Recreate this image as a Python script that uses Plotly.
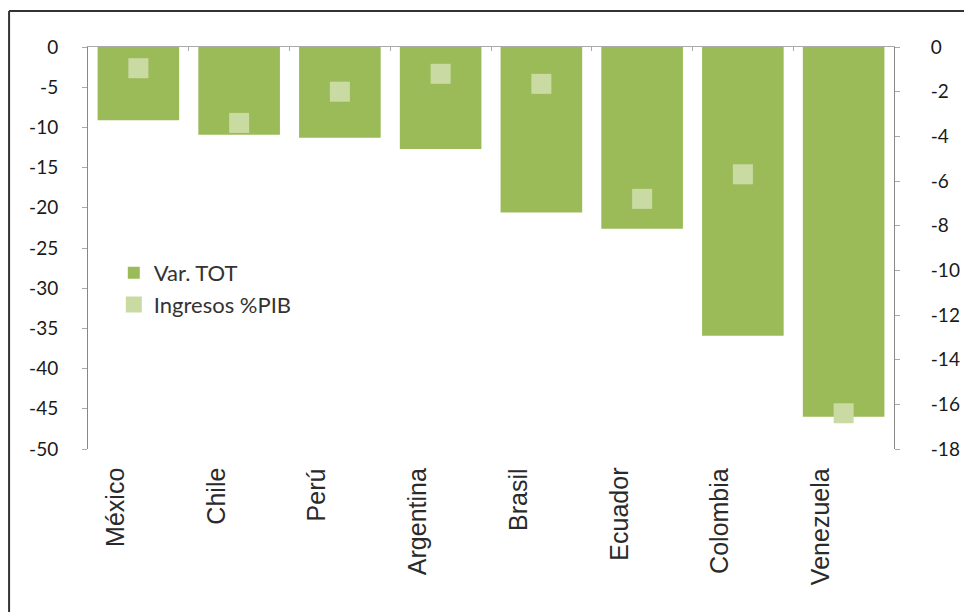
import plotly.graph_objects as go

# data
paises = ["México", "Chile", "Perú", "Argentina", "Brasil", "Ecuador", "Colombia", "Venezuela"]
var_tot = [-9.1, -10.9, -11.3, -12.7, -20.6, -22.6, -35.9, -46.0]
ingresos_pib = [-0.95, -3.4, -2.0, -1.2, -1.65, -6.8, -5.7, -16.4]
ticks_izq = list(range(0, -55, -5))
ticks_der = list(range(0, -20, -2))

# the page body adds an 8px margin, so the figure is 8px smaller than the window
W, H = 964, 604
L, R, T, B = 80, 67, 39, 163

fig = go.Figure()
fig.add_trace(go.Bar(
    x=paises, y=var_tot, name="Var. TOT",
    marker=dict(color="#9bbb59", line=dict(width=0)),
    width=0.81,
))
fig.add_trace(go.Scatter(
    x=paises, y=ingresos_pib, name="Ingresos %PIB", yaxis="y2",
    mode="markers",
    marker=dict(symbol="square", size=20, color="#c9dba3"),
))

# rotated category labels (Excel draws them left of bar centres)
for p in paises:
    fig.add_annotation(
        x=p, y=0, xref="x", yref="paper", yanchor="top", xanchor="center",
        text=p, textangle=-90, showarrow=False, xshift=-24, yshift=-17,
        font=dict(family="Liberation Sans, Arial", size=25, color="#2a2a2a"),
    )

# outer frame (only left and top edges visible)
def px_x(v):
    return (v - L) / (W - L - R)

def px_y(v):
    return (H - B - v) / (H - T - B)

frame = dict(color="#333", width=2)
fig.add_shape(type="line", xref="paper", yref="paper",
              x0=px_x(0), x1=px_x(W + 5), y0=px_y(3), y1=px_y(3), line=frame)
fig.add_shape(type="line", xref="paper", yref="paper",
              x0=px_x(0), x1=px_x(0), y0=px_y(3), y1=px_y(H + 5), line=frame)

tickfont = dict(family="Lato, Open Sans", size=19, color="#1a1a1a")
fig.update_layout(
    width=W, height=H,
    margin=dict(l=L, r=R, t=T, b=B),
    paper_bgcolor="white", plot_bgcolor="white",
    xaxis=dict(
        type="category", range=[-0.5, 7.5], side="top",
        showline=True, linecolor="#aaa", linewidth=1,
        ticks="inside", tickson="boundaries", ticklen=4, tickcolor="#aaa",
        showticklabels=False, showgrid=False, zeroline=False,
    ),
    yaxis=dict(
        range=[-50, 0], showgrid=False, zeroline=False,
        tickvals=ticks_izq, ticktext=[str(v) for v in ticks_izq],
        showline=True, linecolor="#888", linewidth=1,
        ticks="outside", ticklen=5, tickcolor="#aaa",
        ticklabelstandoff=20, tickfont=tickfont,
    ),
    yaxis2=dict(
        range=[-18, 0], overlaying="y", side="right",
        tickvals=ticks_der, ticktext=[str(v) for v in ticks_der],
        showgrid=False, zeroline=False,
        showline=True, linecolor="#888", linewidth=1,
        ticks="outside", ticklen=5, tickcolor="#aaa",
        ticklabelstandoff=27, tickfont=tickfont,
    ),
    legend=dict(
        x=0.032, y=0.49, xanchor="left", yanchor="top",
        bgcolor="rgba(0,0,0,0)",
        font=dict(family="Lato, Open Sans", size=22, color="#333"),
    ),
    showlegend=True,
)

fig.write_html("out.html")
